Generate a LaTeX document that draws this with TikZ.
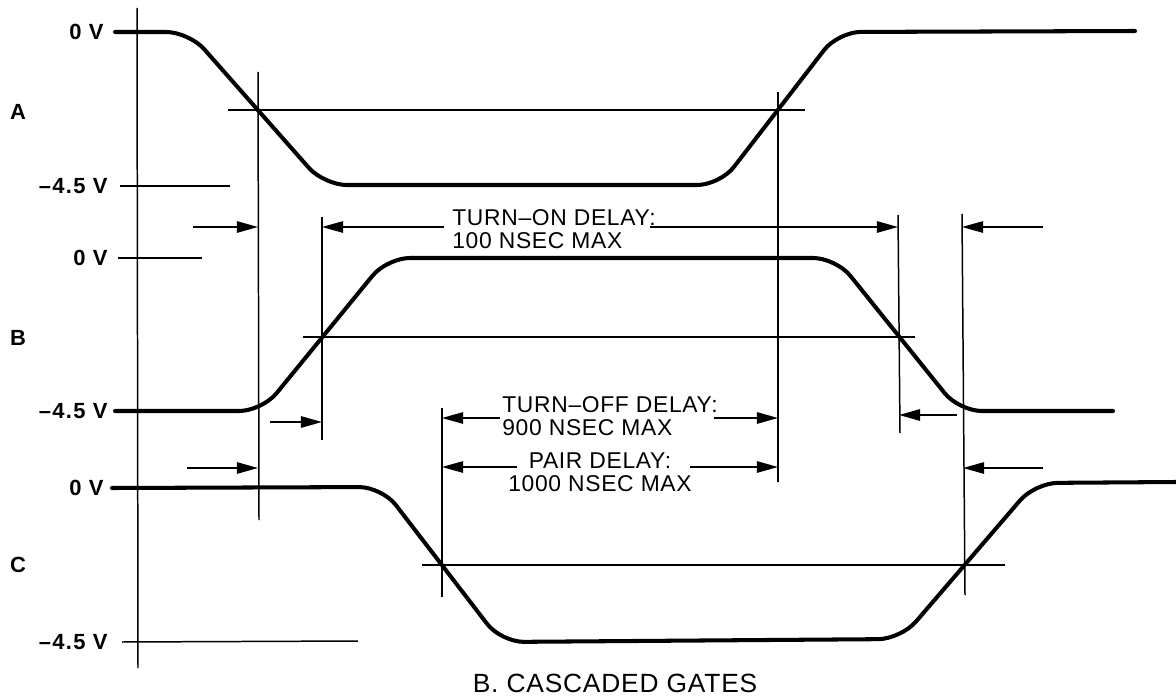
\documentclass[tikz,border=0pt]{standalone}
\usepackage{fontspec}
\setmainfont{Liberation Sans}[LetterSpace=6]
\newfontfamily\notefont{Liberation Sans}[LetterSpace=3]
\usetikzlibrary{arrows.meta}
\tikzset{wave/.style={line width=2.3pt, rounded corners=13pt, line cap=round}}
\tikzset{guide/.style={line width=0.85pt}}
\tikzset{dim/.style={line width=0.85pt, -{Triangle[length=12pt,width=6.5pt]}}}
\tikzset{lvl/.style={font=\bfseries\fontsize{12.5}{14}\selectfont, inner sep=0pt}}
\tikzset{note/.style={font=\notefont\fontsize{13}{13}\selectfont, inner sep=0pt}}

\begin{document}
\begin{tikzpicture}[x=0.02cm,y=-0.02cm]
\useasboundingbox (0,0) rectangle (1176,699);
% signal names and levels
\node[lvl] (sigA) at (18,112) {A};
\node[lvl] (sigB) at (18,338) {B};
\node[lvl] (sigC) at (18,565) {C};
\node[lvl,anchor=east] (hiA) at (104,32) {0 V};
\node[lvl,anchor=east] (loA) at (108,186) {–4.5 V};
\node[lvl,anchor=east] (hiB) at (108,258) {0 V};
\node[lvl,anchor=east] (loB) at (108,411) {–4.5 V};
\node[lvl,anchor=east] (hiC) at (104,488) {0 V};
\node[lvl,anchor=east] (loC) at (108,642) {–4.5 V};
\draw[guide] (loA.east) ++(12,0) -- (230,186);
\draw[guide] (hiB.east) ++(10,0) -- (202,258);
\draw[guide] (loC.east) ++(14,0) -- (358,641);
% waveforms
\draw[wave] (115,32) -- (189,32) -- (324,185) -- (720,185) -- (838,32) -- (1135,31);
\draw[wave] (115,411) -- (262,411) -- (387,258) -- (836,258) -- (959,411) -- (1113,411);
\draw[wave] (112,488) -- (382,487) -- (501,642) -- (901,639) -- (1035,483) -- (1176,482);
% time marks
\coordinate (t1) at (258,227);
\coordinate (t2) at (322,227);
\coordinate (t3) at (442,418);
\coordinate (t4) at (778,418);
\coordinate (t5) at (898,227);
\coordinate (t6) at (962,227);
\draw[guide] (137,8) -- (138,668);
\draw[guide] (258,72) -- (259,520);
\draw[guide] (322,217) -- (322,440);
\draw[guide] (442,408) -- (442,597);
\draw[guide] (778,92) -- (778,482);
\draw[guide] (898,215) -- (900,433);
\draw[guide] (962,214) -- (965,595);
% thresholds
\draw[guide] (228,110) -- (805,110);
\draw[guide] (303,337) -- (915,337);
\draw[guide] (422,565) -- (1005,565);
% delay arrows
\draw[dim] (193,227) -- (t1);
\draw[dim] (1043,227) -- (t6);
\draw[dim] (270,422) -- (322,422);
\draw[dim] (957,415) -- (899,415);
\draw[dim] (187,468) -- (258,468);
\draw[dim] (1043,468) -- (963,468);
\node[note,anchor=west,align=left] (ton) at (452,229) {TURN–ON DELAY:\\100 NSEC MAX};
\draw[dim] (ton.west |- t2) ++(-8,0) -- (t2);
\draw[dim] (650,227) -- (t5);
\node[note,anchor=west,align=left] (toff) at (502,416) {TURN–OFF DELAY:\\900 NSEC MAX};
\draw[dim] (500,418) -- (t3);
\draw[dim] (714,418) -- (t4);
\node[note,align=center] (pair) at (600,472) {PAIR DELAY:\\1000 NSEC MAX};
\draw[dim] (517,467) -- (442,467);
\draw[dim] (690,467) -- (778,467);
\node[note,font=\notefont\fontsize{15}{16}\selectfont] (title) at (615,683) {B. CASCADED GATES};
\end{tikzpicture}
\end{document}
